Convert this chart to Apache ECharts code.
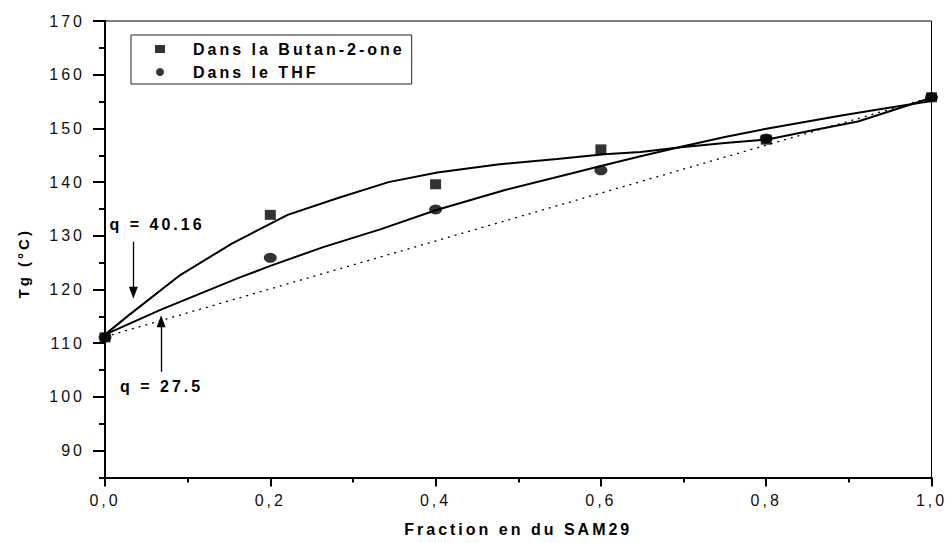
<!DOCTYPE html>
<html>
<head>
<meta charset="utf-8">
<script src="https://cdn.jsdelivr.net/npm/echarts@6/dist/echarts.min.js"></script>
<style>
  html, body { margin: 0; padding: 0; background: #fff; }
  #chart { width: 952px; height: 543px; }
  #chart svg text { letter-spacing: 3px; }
</style>
</head>
<body>
<div id="chart"></div>
<script>
// ---- data ----
const fraction = [0.0, 0.2, 0.4, 0.6, 0.8, 1.0];
const tgButanone = [111.1, 133.9, 139.6, 146.1, 147.9, 155.8];
const tgTHF = [111.1, 125.9, 134.9, 142.2, 148.1, 155.8];

// Kwei fit curves
const fitButX = [0, 0.027, 0.091, 0.154, 0.221, 0.281, 0.343, 0.402, 0.475, 0.547, 0.604, 0.648, 0.697, 0.75, 0.8, 0.858, 0.911, 0.972, 1.0];
const fitButY = [111.6, 115.0, 122.7, 128.6, 133.9, 137.0, 140.0, 141.8, 143.3, 144.3, 145.2, 145.6, 146.5, 147.3, 147.9, 149.7, 151.3, 154.3, 155.7];
const fitTHFX = [0, 0.067, 0.164, 0.2, 0.264, 0.333, 0.401, 0.483, 0.564, 0.6, 0.648, 0.697, 0.75, 0.802, 0.891, 0.939, 1.0];
const fitTHFY = [111.6, 116.2, 122.3, 124.4, 127.9, 131.2, 134.8, 138.5, 141.6, 143.0, 144.8, 146.6, 148.4, 150.0, 152.4, 153.6, 155.1];
const idealX = [0, 1];
const idealY = [111.2, 155.8];

const xTickValues = [0, 0.2, 0.4, 0.6, 0.8, 1.0];
const xTickLabels = ['0,0', '0,2', '0,4', '0,6', '0,8', '1,0'];
const yMajor = [90, 100, 110, 120, 130, 140, 150, 160, 170];
const yMinor = [85, 95, 105, 115, 125, 135, 145, 155, 165];

const annotTexts = ['q = 40.16', 'q = 27.5'];
const annotPos = [[0.063, 132.2], [0.0685, 102.0]];
const arrowLines = [
  [[0.0343, 128.9], [0.0343, 119.4]],
  [[0.0679, 104.7], [0.0679, 114.1]]
];

const series1Name = 'Dans la Butan-2-one';
const series2Name = 'Dans le THF';

const FONT = "'Liberation Sans', Arial, sans-serif";
const zip = (a, b) => a.map((v, i) => [v, b[i]]);

const chart = echarts.init(document.getElementById('chart'), null, { renderer: 'svg' });
chart.setOption({
  animation: false,
  backgroundColor: '#fff',
  grid: {
    left: 105, right: 20.5, top: 21, bottom: 65.5,
    show: true, borderColor: '#000', borderWidth: 1, backgroundColor: 'transparent'
  },
  legend: {
    orient: 'vertical',
    left: 131, top: 35,
    borderColor: '#222', borderWidth: 1,
    padding: [6, 64, 4, 24],
    itemWidth: 10, itemHeight: 8, itemGap: 7,
    data: [{ name: series1Name, icon: 'rect' }, { name: series2Name, icon: 'circle' }],
    textStyle: { fontFamily: FONT, fontWeight: 'bold', fontSize: 16, lineHeight: 16, color: '#000', padding: [0, 0, 0, 23] }
  },
  xAxis: {
    type: 'value', min: 0, max: 1, interval: 0.2,
    name: 'Fraction en du SAM29', nameLocation: 'middle', nameGap: 44,
    nameTextStyle: { fontFamily: FONT, fontWeight: 'bold', fontSize: 16, color: '#000' },
    axisLine: { show: true, onZero: false, lineStyle: { color: '#000', width: 2 } },
    axisTick: { show: true, inside: false, length: 9, lineStyle: { color: '#000', width: 2 } },
    minorTick: { show: true, splitNumber: 2, length: 5, lineStyle: { color: '#000', width: 2 } },
    splitLine: { show: false },
    axisLabel: {
      margin: 15, fontFamily: FONT, fontSize: 16, color: '#111',
      formatter: v => { const i = xTickValues.findIndex(t => Math.abs(t - v) < 1e-6); return i >= 0 ? xTickLabels[i] : ''; }
    }
  },
  yAxis: [{
    type: 'value', min: 85, max: 170, interval: 5,
    name: 'Tg (°C)', nameLocation: 'middle', nameGap: 74, nameRotate: 90,
    nameTextStyle: { fontFamily: FONT, fontWeight: 'bold', fontSize: 15, color: '#000', padding: [0, 28, 0, 0] },
    axisLine: { show: true, onZero: false, lineStyle: { color: '#000', width: 2 } },
    axisTick: { show: true, length: 12, customValues: yMajor, lineStyle: { color: '#000', width: 2 } },
    splitLine: { show: false },
    axisLabel: { margin: 20, fontFamily: FONT, fontSize: 16, color: '#111', customValues: yMajor }
  }, {
    type: 'value', min: 85, max: 170, interval: 5, position: 'left',
    axisLine: { show: false },
    axisTick: { show: true, length: 6, customValues: yMinor, lineStyle: { color: '#000', width: 2 } },
    axisLabel: { show: false },
    splitLine: { show: false }
  }],
  series: [
    {
      name: 'ideal', type: 'line', data: zip(idealX, idealY), symbol: 'none', silent: true,
      lineStyle: { color: '#000', width: 1.3, type: [2, 5] },
      markLine: {
        silent: true, symbol: ['none', 'triangle'], symbolSize: [9, 12],
        label: { show: false },
        lineStyle: { color: '#000', width: 1.3, type: 'solid' },
        data: arrowLines.map(l => [{ coord: l[0] }, { coord: l[1] }])
      },
      markPoint: {
        silent: true, symbol: 'circle', symbolSize: 0,
        label: { show: true, position: 'inside', fontFamily: FONT, fontWeight: 'bold', fontSize: 16, color: '#000' },
        data: annotTexts.map((t, i) => ({ coord: annotPos[i], value: t, label: { formatter: t } }))
      }
    },
    {
      name: 'fitBut', type: 'line', data: zip(fitButX, fitButY), symbol: 'none', silent: true,
      lineStyle: { color: '#000', width: 2 }
    },
    {
      name: 'fitTHF', type: 'line', data: zip(fitTHFX, fitTHFY), symbol: 'none', silent: true,
      lineStyle: { color: '#000', width: 2 }
    },
    {
      name: series1Name, type: 'scatter', data: zip(fraction, tgButanone),
      symbol: 'rect', symbolSize: [11, 10], itemStyle: { color: '#000' }, z: 5
    },
    {
      name: series2Name, type: 'scatter', data: zip(fraction, tgTHF),
      symbol: 'circle', symbolSize: [13, 10], itemStyle: { color: '#000' }, z: 6
    }
  ]
});
</script>
</body>
</html>
